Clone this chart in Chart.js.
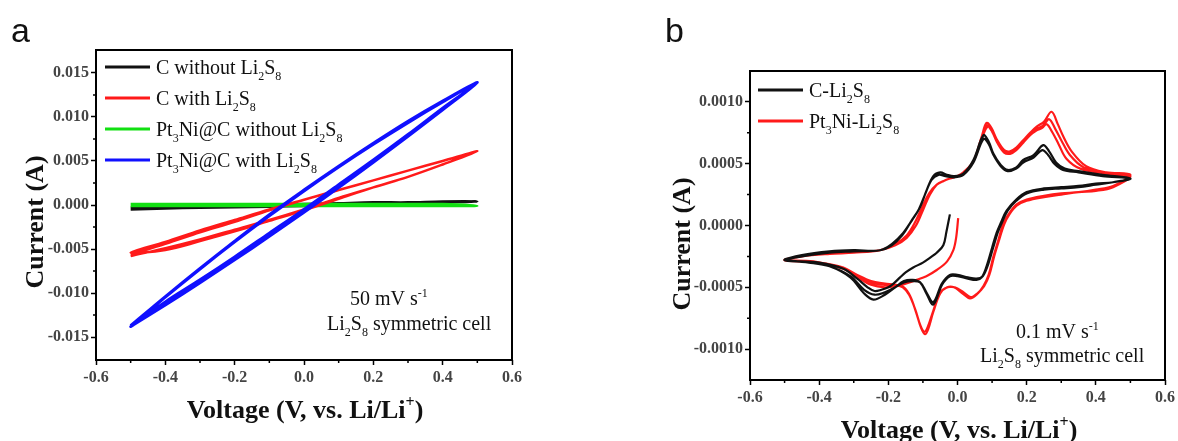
<!DOCTYPE html>
<html>
<head>
<meta charset="utf-8">
<script src="https://cdn.jsdelivr.net/npm/chart.js@4"></script>
<style>
  html, body { margin: 0; padding: 0; background: #fff; }
  body { width: 1178px; height: 441px; position: relative; overflow: hidden; }
  .panel { position: absolute; top: 0; height: 441px; }
  #wrapA { left: 0; width: 600px; }
  #wrapB { left: 600px; width: 578px; }
</style>
</head>
<body>
<div class="panel" id="wrapA"><canvas id="chartA" width="600" height="441"></canvas></div>
<div class="panel" id="wrapB"><canvas id="chartB" width="578" height="441"></canvas></div>
<script>
// ---------- panel a : 50 mV/s, voltage grid shared by all loops ----------
const aVolt = [-0.5, -0.4, -0.3, -0.2, -0.1, 0.0, 0.1, 0.2, 0.3, 0.4, 0.5];

// forward sweep (-0.5 -> 0.5) and backward sweep (0.5 -> -0.5)
const aBlackFwd  = [-0.0005, -0.0004, -0.0003, -0.00025, -0.0002, -0.0001, 0.0, 0.0001, 0.0002, 0.0003, 0.0004];
const aBlackBack = [0.0004, 0.0004, 0.0003, 0.0003, 0.0002, 0.0001, 0.0, -0.0001, -0.0002, -0.0003, -0.0003];
const aRedFwd1   = [-0.0058, -0.0049, -0.0039, -0.0028, -0.0017, -0.0005, 0.0008, 0.0020, 0.0032, 0.0046, 0.0061];
const aRedBack1  = [0.0061, 0.0050, 0.0039, 0.0028, 0.0017, 0.0006, -0.0005, -0.0017, -0.0029, -0.0042, -0.0054];
const aRedFwd2   = [-0.0060, -0.0051, -0.0041, -0.0030, -0.0018, -0.0006, 0.0007, 0.0020, 0.0032, 0.0046, 0.0061];
const aRedBack2  = [0.0061, 0.0050, 0.0039, 0.0028, 0.0017, 0.0006, -0.0006, -0.0019, -0.0031, -0.0044, -0.0056];
const aGreenFwd  = [-0.0001, -0.0001, -0.0001, -0.0001, -0.0001, -0.0001, -0.0001, -0.0001, -0.0001, -0.0001, -0.0001];
const aGreenBack = [0.0001, 0.0001, 0.0001, 0.0001, 0.0001, 0.0001, 0.0001, 0.0001, 0.0001, 0.0001, 0.0001];
const aBlueFwd1  = [-0.0138, -0.01135, -0.00882, -0.00623, -0.00356, -0.00083, 0.00198, 0.00485, 0.0078, 0.01081, 0.0139];
const aBlueBack1 = [0.0139, 0.01169, 0.00935, 0.00689, 0.00431, 0.0016, -0.00123, -0.00419, -0.00727, -0.01047, -0.0138];
const aBlueFwd2  = [-0.0136, -0.0110, -0.0085, -0.0059, -0.0032, -0.0005, 0.0023, 0.0051, 0.0080, 0.0110, 0.0139];
const aBlueBack2 = [0.0139, 0.0118, 0.0095, 0.0070, 0.0044, 0.0017, -0.0011, -0.0041, -0.0072, -0.0104, -0.0137];

const aXTicks = [-0.6, -0.4, -0.2, 0, 0.2, 0.4, 0.6];
const aXMinor = [-0.5, -0.3, -0.1, 0.1, 0.3, 0.5];
const aYTicks = [-0.015, -0.01, -0.005, 0, 0.005, 0.01, 0.015];
const aYMinor = [-0.0125, -0.0075, -0.0025, 0.0025, 0.0075, 0.0125];

// ---------- panel b : 0.1 mV/s, [voltage, current] ----------
const bBlackStart = [[-0.022,0.00009],[-0.032,-0.00005],[-0.041,-0.00016],[-0.06,-0.00022],[-0.079,-0.00026],[-0.1,-0.0003],[-0.128,-0.00034],[-0.15,-0.00038],[-0.166,-0.00042],[-0.185,-0.00047],[-0.2,-0.0005],[-0.22,-0.00052],[-0.24,-0.00053],[-0.26,-0.0005],[-0.29,-0.00043],[-0.33,-0.00035],[-0.4,-0.0003],[-0.5,-0.00028]];
const bBlackAn1 = [[-0.5,-0.00028],[-0.45,-0.00024],[-0.37,-0.00021],[-0.3,-0.0002],[-0.224,-0.0002],[-0.19,-0.00015],[-0.157,-0.00006],[-0.13,0.00005],[-0.108,0.00015],[-0.09,0.00028],[-0.07,0.0004],[-0.05,0.00043],[-0.03,0.00041],[-0.01,0.0004],[0.017,0.00042],[0.046,0.00053],[0.075,0.00073],[0.09,0.00068],[0.104,0.00058],[0.125,0.00049],[0.145,0.00045],[0.17,0.00047],[0.19,0.00053],[0.22,0.00057],[0.248,0.00065],[0.265,0.0006],[0.285,0.00051],[0.31,0.00046],[0.35,0.00044],[0.42,0.00041],[0.5,0.00038]];
const bBlackCath1 = [[0.5,0.00037],[0.45,0.00035],[0.4,0.00034],[0.35,0.00032],[0.3,0.00031],[0.25,0.0003],[0.2,0.00027],[0.17,0.00021],[0.142,0.00012],[0.125,0.00002],[0.113,-0.00006],[0.1,-0.00018],[0.084,-0.00033],[0.07,-0.00042],[0.055,-0.00044],[0.03,-0.00043],[0.0,-0.00041],[-0.022,-0.00041],[-0.045,-0.00048],[-0.07,-0.00064],[-0.09,-0.00055],[-0.108,-0.00046],[-0.13,-0.00044],[-0.155,-0.00045],[-0.18,-0.0005],[-0.21,-0.00056],[-0.243,-0.0006],[-0.27,-0.00055],[-0.31,-0.00042],[-0.37,-0.00033],[-0.43,-0.0003],[-0.5,-0.00028]];
const bBlackAn2 = [[-0.5,-0.00028],[-0.45,-0.00025],[-0.37,-0.00022],[-0.3,-0.00021],[-0.224,-0.0002],[-0.19,-0.00016],[-0.16,-0.00008],[-0.135,0.00003],[-0.112,0.00013],[-0.094,0.00025],[-0.075,0.00037],[-0.055,0.00041],[-0.035,0.0004],[-0.01,0.00039],[0.017,0.00041],[0.046,0.00051],[0.075,0.0007],[0.09,0.00066],[0.104,0.00057],[0.125,0.00048],[0.145,0.00044],[0.17,0.00046],[0.19,0.00051],[0.22,0.00055],[0.245,0.00061],[0.262,0.00057],[0.28,0.0005],[0.305,0.00045],[0.35,0.00043],[0.42,0.0004],[0.5,0.00038]];
const bBlackCath2 = [[0.5,0.00038],[0.45,0.00035],[0.4,0.00033],[0.35,0.00031],[0.3,0.0003],[0.25,0.00029],[0.2,0.00026],[0.17,0.0002],[0.145,0.00012],[0.128,0.00002],[0.116,-0.00006],[0.103,-0.00018],[0.088,-0.00032],[0.073,-0.00041],[0.055,-0.00043],[0.03,-0.00042],[0.0,-0.0004],[-0.022,-0.0004],[-0.045,-0.00047],[-0.07,-0.00062],[-0.09,-0.00054],[-0.108,-0.00046],[-0.13,-0.00045],[-0.155,-0.00046],[-0.18,-0.0005],[-0.21,-0.00054],[-0.24,-0.00056],[-0.27,-0.00052],[-0.31,-0.00041],[-0.37,-0.00033],[-0.43,-0.0003],[-0.5,-0.00028]];

const bRedStart = [[0.002,0.00006],[-0.004,-0.0001],[-0.012,-0.0002],[-0.03,-0.00029],[-0.06,-0.00036],[-0.09,-0.00041],[-0.118,-0.00044],[-0.15,-0.00047],[-0.176,-0.00049],[-0.21,-0.0005],[-0.25,-0.00048],[-0.29,-0.00042],[-0.33,-0.00035],[-0.417,-0.00029],[-0.5,-0.00028]];
const bRedAn1 = [[-0.5,-0.00028],[-0.45,-0.00025],[-0.369,-0.00023],[-0.3,-0.00022],[-0.224,-0.0002],[-0.18,-0.00016],[-0.147,-0.0001],[-0.12,0.0],[-0.099,0.00013],[-0.08,0.00025],[-0.06,0.00033],[-0.04,0.00036],[-0.022,0.00038],[0.0,0.0004],[0.017,0.00043],[0.046,0.00052],[0.07,0.00072],[0.084,0.00083],[0.098,0.00079],[0.113,0.0007],[0.135,0.00061],[0.152,0.0006],[0.17,0.00063],[0.19,0.00069],[0.21,0.00075],[0.229,0.0008],[0.25,0.00084],[0.272,0.00092],[0.29,0.00082],[0.306,0.00072],[0.33,0.0006],[0.372,0.00048],[0.43,0.00043],[0.5,0.00041]];
const bRedCath1 = [[0.5,0.0004],[0.45,0.00032],[0.4,0.00029],[0.35,0.00027],[0.3,0.00026],[0.25,0.00024],[0.2,0.00021],[0.171,0.00017],[0.15,0.0001],[0.133,0.00002],[0.118,-0.00012],[0.104,-0.00025],[0.09,-0.0004],[0.075,-0.00049],[0.055,-0.00056],[0.036,-0.00059],[0.015,-0.00055],[-0.01,-0.0005],[-0.03,-0.0005],[-0.05,-0.00055],[-0.07,-0.0007],[-0.085,-0.00084],[-0.094,-0.00088],[-0.105,-0.00083],[-0.12,-0.0007],[-0.137,-0.00057],[-0.155,-0.0005],[-0.18,-0.00048],[-0.21,-0.00048],[-0.25,-0.00046],[-0.29,-0.00041],[-0.33,-0.00035],[-0.4,-0.0003],[-0.5,-0.00028]];
const bRedAn2 = [[-0.5,-0.00028],[-0.45,-0.00025],[-0.369,-0.00023],[-0.3,-0.00022],[-0.224,-0.0002],[-0.18,-0.00015],[-0.147,-0.00008],[-0.122,0.00003],[-0.102,0.00015],[-0.082,0.00026],[-0.06,0.00033],[-0.04,0.00036],[-0.022,0.00038],[0.0,0.0004],[0.017,0.00043],[0.046,0.00052],[0.07,0.00071],[0.086,0.00081],[0.1,0.00077],[0.115,0.00068],[0.135,0.0006],[0.152,0.00059],[0.17,0.00062],[0.19,0.00068],[0.21,0.00074],[0.229,0.00078],[0.248,0.00081],[0.265,0.00086],[0.283,0.00078],[0.3,0.00069],[0.325,0.00057],[0.365,0.00047],[0.43,0.00042],[0.5,0.0004]];
const bRedCath2 = [[0.5,0.0004],[0.45,0.00031],[0.4,0.00028],[0.35,0.00027],[0.3,0.00025],[0.25,0.00023],[0.2,0.0002],[0.171,0.00016],[0.15,0.00009],[0.135,0.00001],[0.12,-0.00012],[0.106,-0.00025],[0.092,-0.0004],[0.077,-0.00049],[0.057,-0.00055],[0.038,-0.00058],[0.017,-0.00054],[-0.008,-0.0005],[-0.028,-0.0005],[-0.05,-0.00054],[-0.07,-0.00069],[-0.086,-0.00082],[-0.096,-0.00086],[-0.107,-0.00081],[-0.122,-0.00068],[-0.14,-0.00056],[-0.158,-0.0005],[-0.18,-0.00048],[-0.21,-0.00047],[-0.25,-0.00045],[-0.29,-0.0004],[-0.33,-0.00034],[-0.4,-0.0003],[-0.5,-0.00028]];
const bRedAn3 = [[-0.5,-0.00028],[-0.45,-0.00025],[-0.369,-0.00023],[-0.3,-0.00022],[-0.224,-0.0002],[-0.18,-0.00015],[-0.147,-0.00008],[-0.122,0.00003],[-0.102,0.00015],[-0.082,0.00026],[-0.06,0.00033],[-0.04,0.00036],[-0.022,0.00038],[0.0,0.0004],[0.017,0.00043],[0.046,0.00052],[0.07,0.0007],[0.087,0.0008],[0.1,0.00076],[0.115,0.00067],[0.135,0.00059],[0.152,0.00058],[0.17,0.00061],[0.19,0.00067],[0.21,0.00073],[0.229,0.00077],[0.245,0.00079],[0.258,0.00082],[0.275,0.00075],[0.292,0.00066],[0.315,0.00054],[0.355,0.00046],[0.43,0.00042],[0.5,0.0004]];

const bXTicks = [-0.6, -0.4, -0.2, 0, 0.2, 0.4, 0.6];
const bXMinor = [-0.5, -0.3, -0.1, 0.1, 0.3, 0.5];
const bYTicks = [-0.001, -0.0005, 0, 0.0005, 0.001];
const bYMinor = [-0.00075, -0.00025, 0.00025, 0.00075];

// ---------- texts ----------
const aLegend = [
  [['C without Li', ''], ['2', 'sub'], ['S', ''], ['8', 'sub']],
  [['C with Li', ''], ['2', 'sub'], ['S', ''], ['8', 'sub']],
  [['Pt', ''], ['3', 'sub'], ['Ni@C without Li', ''], ['2', 'sub'], ['S', ''], ['8', 'sub']],
  [['Pt', ''], ['3', 'sub'], ['Ni@C with Li', ''], ['2', 'sub'], ['S', ''], ['8', 'sub']]
];
const bLegend = [
  [['C-Li', ''], ['2', 'sub'], ['S', ''], ['8', 'sub']],
  [['Pt', ''], ['3', 'sub'], ['Ni-Li', ''], ['2', 'sub'], ['S', ''], ['8', 'sub']]
];
const aRate = [['50 mV s', ''], ['-1', 'sup']];
const bRate = [['0.1 mV s', ''], ['-1', 'sup']];
const cellNote = [['Li', ''], ['2', 'sub'], ['S', ''], ['8', 'sub'], [' symmetric cell', '']];
const xTitle = [['Voltage (V, vs. Li/Li', ''], ['+', 'sup'], [')', '']];
const yTitle = [['Current (A)', '']];

const aColors = ['#111111', '#ff1a1a', '#12e012', '#1010ff'];
const bColors = ['#111111', '#ff1a1a'];

const SERIF = '"Liberation Serif", "DejaVu Serif", serif';

function zipV(volts, cur) { return volts.map((v, i) => ({ x: v, y: cur[i] })); }
function pts(arr) { return arr.map(p => ({ x: p[0], y: p[1] })); }
function chain(...segs) {
  let out = [];
  segs.forEach((s, i) => { out = out.concat(i === 0 ? s : s.slice(1)); });
  return out;
}

function drawRich(ctx, parts, x, y, size, bold, align) {
  const w8 = bold ? 'bold ' : '';
  const fontFor = k => w8 + (k ? Math.round(size * 0.6) : size) + 'px ' + SERIF;
  let w = 0;
  parts.forEach(([t, k]) => { ctx.font = fontFor(k); w += ctx.measureText(t).width; });
  let cx = align === 'center' ? x - w / 2 : x;
  ctx.textAlign = 'left';
  ctx.textBaseline = 'alphabetic';
  parts.forEach(([t, k]) => {
    ctx.font = fontFor(k);
    const dy = k === 'sub' ? size * 0.3 : (k === 'sup' ? -size * 0.42 : 0);
    ctx.fillText(t, cx, y + dy);
    cx += ctx.measureText(t).width;
  });
}

function decorPlugin(cfg) {
  return {
    id: 'decor',
    afterDraw(chart) {
      const ctx = chart.ctx;
      const area = chart.chartArea;
      const sx = chart.scales.x, sy = chart.scales.y;
      const ox = cfg.offsetX;
      ctx.save();
      ctx.strokeStyle = '#000';
      ctx.lineWidth = 1.5;
      ctx.beginPath();
      cfg.xMinor.forEach(v => {
        const p = sx.getPixelForValue(v);
        ctx.moveTo(p, area.bottom); ctx.lineTo(p, area.bottom + 3);
      });
      cfg.yMinor.forEach(v => {
        const p = sy.getPixelForValue(v);
        ctx.moveTo(area.left, p); ctx.lineTo(area.left - 3, p);
      });
      ctx.stroke();
      // frame
      ctx.lineWidth = 2;
      ctx.strokeRect(area.left, area.top, area.right - area.left, area.bottom - area.top);

      // legend
      cfg.legend.forEach((parts, i) => {
        const y = cfg.legendY + i * cfg.legendGap;
        ctx.strokeStyle = cfg.colors[i];
        ctx.lineWidth = 3;
        ctx.beginPath();
        ctx.moveTo(cfg.legendX1 - ox, y); ctx.lineTo(cfg.legendX2 - ox, y);
        ctx.stroke();
        ctx.fillStyle = '#111';
        drawRich(ctx, parts, cfg.legendTextX - ox, y + 7, 20, false, 'left');
      });

      // notes
      ctx.fillStyle = '#111';
      cfg.notes.forEach(n => drawRich(ctx, n.parts, n.x - ox, n.y, 20, false, 'left'));

      // axis titles
      ctx.fillStyle = '#111';
      drawRich(ctx, xTitle, cfg.xTitleX - ox, cfg.xTitleY, 26, true, 'center');
      ctx.save();
      ctx.translate(cfg.yTitleX - ox, cfg.yTitleY);
      ctx.rotate(-Math.PI / 2);
      drawRich(ctx, yTitle, 0, 0, 26, true, 'center');
      ctx.restore();

      // panel letter
      ctx.font = '34px "Liberation Sans", Arial, sans-serif';
      ctx.fillStyle = '#111';
      ctx.textAlign = 'left';
      ctx.fillText(cfg.letter, cfg.letterX - ox, 42);
      ctx.restore();
    }
  };
}

function axes(xTicks, yTicks, yDigits, yWidth, xHeight, yMin, yMax) {
  const tickFont = { family: SERIF, size: 16, weight: 'bold' };
  return {
    x: {
      type: 'linear', min: -0.6, max: 0.6,
      afterBuildTicks: s => { s.ticks = xTicks.map(v => ({ value: v })); },
      afterFit: s => { s.height = xHeight; },
      ticks: { callback: v => v.toFixed(1), font: tickFont, color: '#444', padding: 3, maxRotation: 0, autoSkip: false },
      grid: { drawOnChartArea: false, tickLength: 5, tickWidth: 1.5, tickColor: '#000' },
      border: { display: false }
    },
    y: {
      type: 'linear', min: yMin, max: yMax,
      afterBuildTicks: s => { s.ticks = yTicks.map(v => ({ value: v })); },
      afterFit: s => { s.width = yWidth; },
      ticks: { callback: v => v.toFixed(yDigits), font: tickFont, color: '#444', padding: 2, autoSkip: false },
      grid: { drawOnChartArea: false, tickLength: 5, tickWidth: 1.5, tickColor: '#000' },
      border: { display: false }
    }
  };
}

function line(data, color, width, order) {
  return { data: data, borderColor: color, backgroundColor: color, borderWidth: width,
           showLine: true, pointRadius: 0, tension: 0.35, fill: false, order: order };
}

// ---------- chart a ----------
new Chart(document.getElementById('chartA'), {
  type: 'scatter',
  data: {
    datasets: [
      line(chain(zipV(aVolt, aBlackFwd), zipV(aVolt.slice().reverse(), aBlackBack)), aColors[0], 2.5, 4),
      line(chain(zipV(aVolt, aRedFwd1), zipV(aVolt.slice().reverse(), aRedBack1),
                 zipV(aVolt, aRedFwd2), zipV(aVolt.slice().reverse(), aRedBack2)), aColors[1], 2.5, 2),
      line(chain(zipV(aVolt, aGreenFwd), zipV(aVolt.slice().reverse(), aGreenBack)), aColors[2], 2.5, 3),
      line(chain(zipV(aVolt, aBlueFwd1), zipV(aVolt.slice().reverse(), aBlueBack1),
                 zipV(aVolt, aBlueFwd2), zipV(aVolt.slice().reverse(), aBlueBack2)), aColors[3], 3, 1)
    ]
  },
  options: {
    responsive: false,
    animation: false,
    layout: { padding: { left: 0, top: 50, right: 88, bottom: 0 } },
    plugins: { legend: { display: false }, tooltip: { enabled: false } },
    scales: axes(aXTicks, aYTicks, 3, 96, 81, -0.0176, 0.0176)
  },
  plugins: [decorPlugin({
    offsetX: 0, xMinor: aXMinor, yMinor: aYMinor,
    legend: aLegend, colors: aColors, legendX1: 105, legendX2: 150, legendTextX: 156, legendY: 67, legendGap: 31,
    notes: [{ parts: aRate, x: 350, y: 305 }, { parts: cellNote, x: 327, y: 330 }],
    xTitleX: 305, xTitleY: 418, yTitleX: 43, yTitleY: 222,
    letter: 'a', letterX: 11
  })]
});

// ---------- chart b ----------
new Chart(document.getElementById('chartB'), {
  type: 'scatter',
  data: {
    datasets: [
      line(chain(pts(bBlackStart), pts(bBlackAn1), pts(bBlackCath1), pts(bBlackAn2), pts(bBlackCath2)), bColors[0], 2.2, 1),
      line(chain(pts(bRedStart), pts(bRedAn1), pts(bRedCath1), pts(bRedAn2), pts(bRedCath2), pts(bRedAn3)), bColors[1], 2.2, 2)
    ]
  },
  options: {
    responsive: false,
    animation: false,
    layout: { padding: { left: 0, top: 71, right: 13, bottom: 0 } },
    plugins: { legend: { display: false }, tooltip: { enabled: false } },
    scales: axes(bXTicks, bYTicks, 4, 150, 61, -0.00125, 0.00125)
  },
  plugins: [decorPlugin({
    offsetX: 600, xMinor: bXMinor, yMinor: bYMinor,
    legend: bLegend, colors: bColors, legendX1: 758, legendX2: 803, legendTextX: 809, legendY: 90, legendGap: 31,
    notes: [{ parts: bRate, x: 1016, y: 338 }, { parts: cellNote, x: 980, y: 362 }],
    xTitleX: 959, xTitleY: 438, yTitleX: 690, yTitleY: 244,
    letter: 'b', letterX: 665
  })]
});
</script>
</body>
</html>
